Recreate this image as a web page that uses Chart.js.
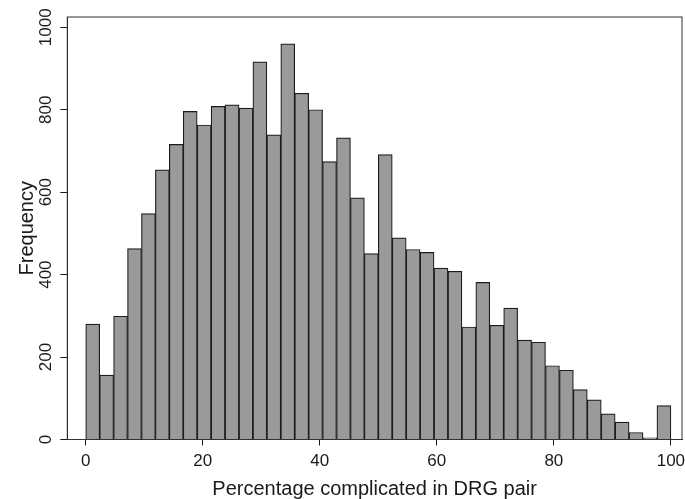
<!DOCTYPE html>
<html lang="en">
<head>
  <meta charset="UTF-8" />
  <title>DRG pair histogram</title>
  <style>
    body {
      margin: 0;
      background: #fff;
    }
    #chartBox {
      width: 685px;
      height: 499px;
    }
  </style>
  <script src="https://cdn.jsdelivr.net/npm/chart.js"></script>
</head>
<body>
  <div id="chartBox"><canvas id="histChart" width="685" height="499"></canvas></div>
  <script>
    // Histogram bins: 42 equal bins over 0..100
    const binStart = 0;
    const binWidth = 100 / 42;
    const frequencies = [
      280, 156, 299, 463, 548, 654, 716, 796, 763, 808,
      812, 804, 916, 739, 960, 840, 800, 674, 732, 586,
      451, 691, 489, 461, 454, 416, 408, 273, 381, 277,
      319, 241, 236, 179, 168, 121, 96, 62, 42, 17,
      4, 82
    ];
    const xTicks = [0, 20, 40, 60, 80, 100];
    const yTicks = [0, 200, 400, 600, 800, 1000];

    const textColor = "#1a1a1a";
    const fontFamily = "'Liberation Sans', Arial, Helvetica, sans-serif";

    // bar centred in its bin
    const points = frequencies.map((f, i) => ({ x: binStart + binWidth * (i + 0.5), y: f }));

    // outline of the plot region (top and right sides)
    const frame = {
      id: "frame",
      afterDraw(chart) {
        const { ctx, chartArea: a } = chart;
        ctx.save();
        ctx.strokeStyle = "#333";
        ctx.lineWidth = 1;
        ctx.strokeRect(a.left, a.top, a.right - a.left, a.bottom - a.top);
        ctx.restore();
      }
    };

    new Chart(document.getElementById("histChart"), {
      type: "bar",
      data: {
        datasets: [{
          label: "Frequency",
          data: points,
          backgroundColor: "#9a9a9a",
          borderColor: "#1c1c1c",
          borderWidth: 1.2,
          barPercentage: 1,
          categoryPercentage: 1
        }]
      },
      options: {
        responsive: false,
        animation: false,
        layout: { padding: { top: 17, right: 3, bottom: 0, left: 0 } },
        plugins: {
          legend: { display: false },
          tooltip: { enabled: false }
        },
        scales: {
          x: {
            type: "linear",
            offset: false,
            min: -3.15,
            max: 101.9,
            afterBuildTicks: s => { s.ticks = xTicks.map(v => ({ value: v })); },
            afterFit: s => { s.height = 59.5; s.paddingLeft = 0; s.paddingRight = 0; },
            grid: { offset: false, drawOnChartArea: false, drawTicks: true, tickLength: 6, color: textColor },
            border: { display: true, color: textColor, width: 1 },
            ticks: {
              color: textColor,
              padding: 7,
              maxRotation: 0,
              callback: v => String(v),
              font: { family: fontFamily, size: 17, lineHeight: 1 }
            },
            title: {
              display: true,
              text: "Percentage complicated in DRG pair",
              color: textColor,
              padding: { top: 0, bottom: 0 },
              font: { family: fontFamily, size: 20, lineHeight: 1 }
            }
          },
          y: {
            min: 0,
            max: 1025,
            afterBuildTicks: s => { s.ticks = yTicks.map(v => ({ value: v })); },
            afterFit: s => { s.width = 67.3; s.paddingTop = 0; s.paddingBottom = 0; },
            grid: { drawOnChartArea: false, drawTicks: true, tickLength: 7, color: textColor },
            border: { display: true, color: textColor, width: 1 },
            ticks: {
              color: textColor,
              minRotation: 90,
              maxRotation: 90,
              crossAlign: "center",
              padding: -5,
              callback: v => String(v),
              font: { family: fontFamily, size: 17, lineHeight: 1 }
            },
            title: {
              display: true,
              text: "Frequency",
              color: textColor,
              padding: { top: 17, bottom: 0 },
              font: { family: fontFamily, size: 20, lineHeight: 1 }
            }
          }
        }
      },
      plugins: [frame]
    });
  </script>
</body>
</html>
